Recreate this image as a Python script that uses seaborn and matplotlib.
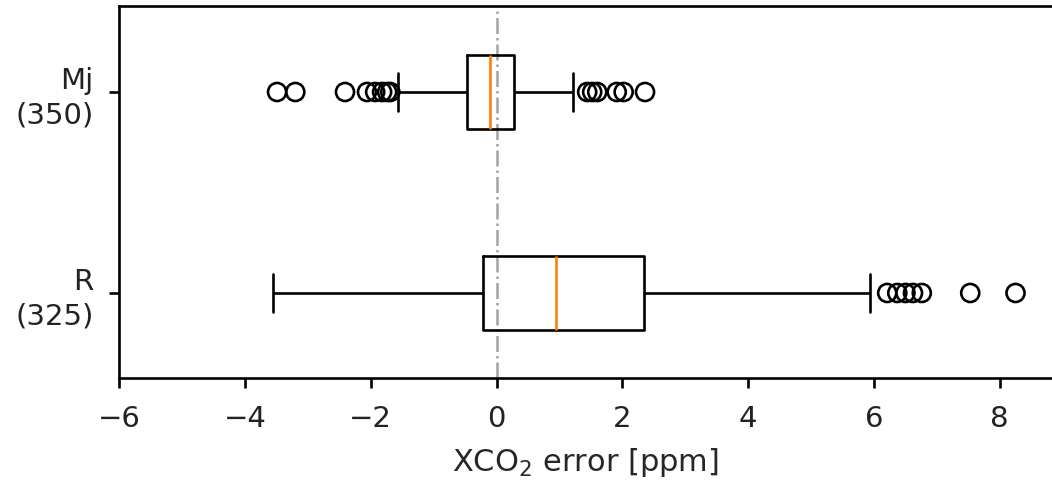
import numpy as np
import pandas as pd
import matplotlib
matplotlib.use("Agg")
import matplotlib.pyplot as plt
import seaborn as sns

# Retrieval groups (sample counts in parentheses)
categories = ["Mj\n(350)", "R\n(325)"]

# Box statistics per group: whisker ends, quartiles and median [ppm]
whisker_low = [-1.56, -3.56]
q1 = [-0.47, -0.21]
median = [-0.11, 0.95]
q3 = [0.27, 2.34]
whisker_high = [1.21, 5.94]

# Points beyond the whiskers [ppm]
outliers_mj = [-3.49, -3.20, -2.41, -2.06, -1.93, -1.82, -1.74, -1.69,
               1.44, 1.52, 1.60, 1.91, 2.02, 2.36]
outliers_r = [6.21, 6.37, 6.50, 6.62, 6.76, 7.53, 8.25]

x_ticks = [-6, -4, -2, 0, 2, 4, 6, 8]

sns.set_style("ticks")
plt.rcParams["font.family"] = ["DejaVu Sans"]

# Long-format tables: the five-number summary of each group spans the
# full whisker range, so whis=(0, 100) reproduces box and whiskers exactly.
box_rows = []
for i, cat in enumerate(categories):
    for v in (whisker_low[i], q1[i], median[i], q3[i], whisker_high[i]):
        box_rows.append({"group": cat, "value": v})
box_df = pd.DataFrame(box_rows)

flier_df = pd.DataFrame(
    [{"group": categories[0], "value": v} for v in outliers_mj]
    + [{"group": categories[1], "value": v} for v in outliers_r]
)

fig = plt.figure(figsize=(10.52, 4.82), dpi=100)
ax = fig.add_axes([0.1133, 0.2158, 0.8867, 0.7718])

lw = 1.9
ax.axvline(0, color="#a4a4a4", ls="-.", lw=1.8, zorder=0)

sns.boxplot(
    data=box_df, x="value", y="group", order=categories, orient="h",
    whis=(0, 100), width=0.37, fill=False, color="black", linewidth=lw,
    showfliers=False, medianprops=dict(color="#ff7f0e", linewidth=lw),
    ax=ax,
)

sns.stripplot(
    data=flier_df, x="value", y="group", order=categories, orient="h",
    jitter=False, marker="o", size=13, color="black", linewidth=lw,
    edgecolor="black", ax=ax,
)
for coll in ax.collections:
    coll.set_facecolor("none")
    coll.set_edgecolor("black")
    coll.set_linewidth(lw)

ax.set_xlim(-6, 8.83)
ax.set_ylim(1.423, -0.428)
ax.set_xticks(x_ticks)
ax.set_xticklabels([f"\u2212{abs(t)}" if t < 0 else str(t) for t in x_ticks])
ax.set_ylabel("")
ax.set_xlabel("XCO$_2$ error [ppm]", fontsize=22, labelpad=9)

for side in ("top", "left", "bottom"):
    ax.spines[side].set_visible(True)
    ax.spines[side].set_linewidth(lw)
    ax.spines[side].set_color("black")
ax.spines["right"].set_visible(False)

ax.tick_params(axis="both", labelsize=21, length=7.5, width=lw,
               color="black", labelcolor="#222222")
ax.tick_params(axis="y", pad=11)
ax.tick_params(axis="x", pad=12)
for lbl in ax.get_yticklabels():
    lbl.set_linespacing(1.3)

fig.savefig("out.png", dpi=100)
